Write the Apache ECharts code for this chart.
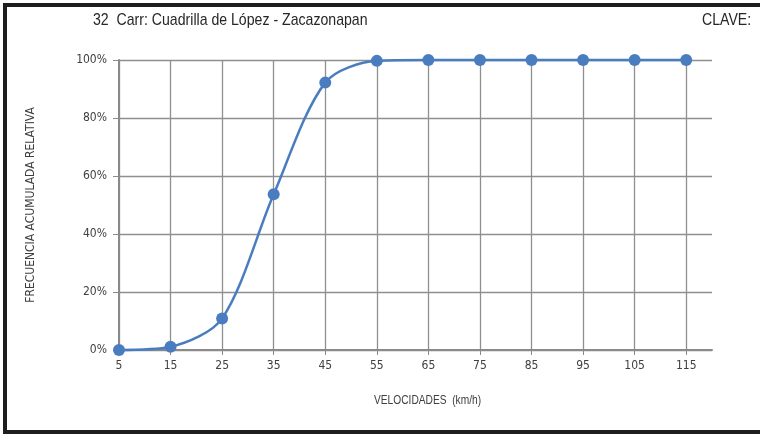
<!DOCTYPE html>
<html>
<head>
<meta charset="utf-8">
<script src="https://cdn.jsdelivr.net/npm/echarts@6/dist/echarts.min.js"></script>
<style>
  html, body { margin: 0; padding: 0; background: #fff; overflow: hidden; }
  #chart { width: 760px; height: 434px; }
</style>
</head>
<body>
<div id="chart"></div>
<script>
// Speed classes (km/h) and cumulative relative frequency (%)
const speeds = [5, 15, 25, 35, 45, 55, 65, 75, 85, 95, 105, 115];
const cumulativePct = [0, 1.1, 10.9, 53.7, 92.2, 99.7, 100, 100, 100, 100, 100, 100];
const yTicks = [0, 20, 40, 60, 80, 100];

const chartTitle = '32  Carr: Cuadrilla de López - Zacazonapan';
const keyLabel = 'CLAVE:';
const xName = 'VELOCIDADES  (km/h)';
const yName = 'FRECUENCIA ACUMULADA RELATIVA';

const FONT = '"DejaVu Sans Condensed", sans-serif';
const TITLE_FONT = '"Liberation Sans", Arial, sans-serif';
const LINE_BLUE = '#4a7dbf';
const FRAME = { stroke: '#1e1e1e', lineWidth: 4 };

const chart = echarts.init(document.getElementById('chart'), null, { renderer: 'canvas' });

chart.setOption({
  animation: false,
  backgroundColor: '#ffffff',
  grid: { left: 119, right: 48, top: 60, bottom: 84, containLabel: false },
  graphic: [
    // frame: top, left and bottom edges; the right side stays open
    { type: 'line', silent: true, shape: { x1: 3, y1: 5, x2: 760, y2: 5 }, style: FRAME },
    { type: 'line', silent: true, shape: { x1: 5, y1: 3, x2: 5, y2: 434 }, style: FRAME },
    { type: 'line', silent: true, shape: { x1: 3, y1: 432, x2: 760, y2: 432 }, style: FRAME },
    {
      type: 'rect', silent: true, z: 200,
      shape: { x: 755, y: 8, width: 10, height: 421 },
      style: { fill: '#ffffff' }
    },
    {
      type: 'text', x: 93, y: 12, scaleX: 0.83,
      style: { text: chartTitle, font: '17px ' + TITLE_FONT, fill: '#262626' }
    },
    {
      type: 'text', x: 702, y: 12, scaleX: 0.83,
      style: { text: keyLabel, font: '17px ' + TITLE_FONT, fill: '#262626' }
    },
    {
      type: 'text', x: 374, y: 395, scaleX: 0.85,
      style: { text: xName, font: '12px ' + TITLE_FONT, fill: '#404040' }
    }
  ],
  xAxis: {
    type: 'value',
    min: 5,
    max: 120,
    axisLine: { show: true, lineStyle: { color: '#8a8a8a', width: 2 } },
    axisTick: { show: true, customValues: speeds, length: 5, lineStyle: { color: '#8a8a8a', width: 1 } },
    axisLabel: { customValues: speeds, margin: 10, fontFamily: FONT, fontSize: 12, color: '#404040' },
    splitLine: { show: true, lineStyle: { color: '#8f8f8f', width: 1.3 } }
  },
  yAxis: {
    type: 'value',
    min: 0,
    max: 100,
    interval: 20,
    name: yName,
    nameLocation: 'middle',
    nameGap: 82,
    nameTextStyle: { fontFamily: FONT, fontSize: 12, color: '#404040' },
    axisLine: { show: true, lineStyle: { color: '#8a8a8a', width: 2 } },
    axisTick: { show: true, length: 6, lineStyle: { color: '#8a8a8a', width: 1 } },
    axisLabel: {
      margin: 12, fontFamily: FONT, fontSize: 12, color: '#404040',
      formatter: v => yTicks.includes(v) ? v + '%' : ''
    },
    splitLine: { show: true, lineStyle: { color: '#8f8f8f', width: 1.3 } }
  },
  series: [{
    type: 'line',
    data: speeds.map((s, i) => [s, cumulativePct[i]]),
    smooth: 0.3,
    symbol: 'circle',
    symbolSize: 12,
    lineStyle: { color: LINE_BLUE, width: 2.5 },
    itemStyle: { color: LINE_BLUE },
    clip: false
  }]
});
</script>
</body>
</html>
